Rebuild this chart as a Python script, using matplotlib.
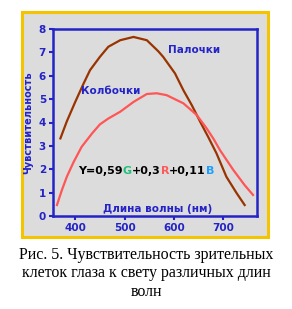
import matplotlib
matplotlib.use("Agg")
import matplotlib.pyplot as plt
from matplotlib.patches import Rectangle

# Data
rods_wl = [370, 383, 400, 417, 430, 450, 467, 491, 518, 545, 568, 578, 602, 619,
           636, 653, 669, 686, 706, 727, 743]
rods_val = [3.32, 4.05, 4.88, 5.67, 6.24, 6.81, 7.24, 7.52, 7.66, 7.52, 7.05, 6.81, 6.10, 5.38,
            4.74, 4.03, 3.39, 2.68, 1.68, 0.97, 0.47]
cones_wl = [363, 373, 383, 397, 413, 434, 450, 467, 491, 518, 545, 565, 585, 619,
            646, 666, 680, 693, 720, 743, 760]
cones_val = [0.47, 1.11, 1.68, 2.32, 2.96, 3.53, 3.92, 4.17, 4.46, 4.88, 5.22, 5.25, 5.17, 4.82,
             4.32, 3.75, 3.3, 2.82, 1.97, 1.32, 0.9]
x_ticks = [400, 500, 600, 700]
y_ticks = [0, 1, 2, 3, 4, 5, 6, 7, 8]

BLUE = "#2323c8"
BG = "#dcdcdc"

fig = plt.figure(figsize=(2.92, 3.09), dpi=100)
fig.patch.set_facecolor("white")
W, H = 292, 309
fig.patches.append(Rectangle((22 / W, 1 - 237 / H), 246 / W, 225 / H,
                             transform=fig.transFigure, facecolor=BG,
                             edgecolor="#f5c400", linewidth=2.2, zorder=0))

ax = fig.add_axes([53 / W, 1 - 216 / H, 204 / W, 187 / H])
ax.set_zorder(2)
ax.set_facecolor(BG)
ax.plot(rods_wl, rods_val, color="#993300", lw=1.6)
ax.plot(cones_wl, cones_val, color="#ff5555", lw=1.6)
ax.set_xlim(355, 768)
ax.set_ylim(0, 8)
ax.set_xticks(x_ticks)
ax.set_yticks(y_ticks)
for s in ax.spines.values():
    s.set_color(BLUE)
    s.set_linewidth(1.8)
ax.tick_params(colors=BLUE, width=1.5, length=3, labelsize=7.5, pad=2)
for lab in ax.get_xticklabels() + ax.get_yticklabels():
    lab.set_fontweight("bold")
    lab.set_color(BLUE)
ax.set_ylabel("Чувствительность", color=BLUE, fontsize=7, fontweight="bold", labelpad=4)

ax.text(566, 0.3, "Длина волны (нм)", color=BLUE, fontsize=7.5, fontweight="bold",
        ha="center", va="center")
ax.text(641, 7.09, "Палочки", color=BLUE, fontsize=7.5, fontweight="bold",
        ha="center", va="center")
ax.text(471, 5.34, "Колбочки", color=BLUE, fontsize=7.5, fontweight="bold",
        ha="center", va="center")

parts = [("Y=0,59", "black"), ("G", "#22c07a"), ("+0,3", "black"),
         ("R", "#ff5a5a"), ("+0,11", "black"), ("B", "#1e9eff")]
fs = 8
t = ax.text(406, 1.92, parts[0][0], color=parts[0][1], fontsize=fs,
            fontweight="bold", ha="left", va="center")
for s, c in parts[1:]:
    t = ax.annotate(s, xy=(1, 0), xycoords=t, xytext=(0, 0), textcoords="offset points",
                    color=c, fontsize=fs, fontweight="bold", ha="left", va="bottom")

cap = "Рис. 5. Чувствительность зрительных\nклеток глаза к свету различных длин\nволн"
fig.text(0.5, 1 - 247 / H, cap, ha="center", va="top", family="Liberation Serif",
         fontsize=11.5, linespacing=1.2)

fig.savefig("out.png", dpi=100)
